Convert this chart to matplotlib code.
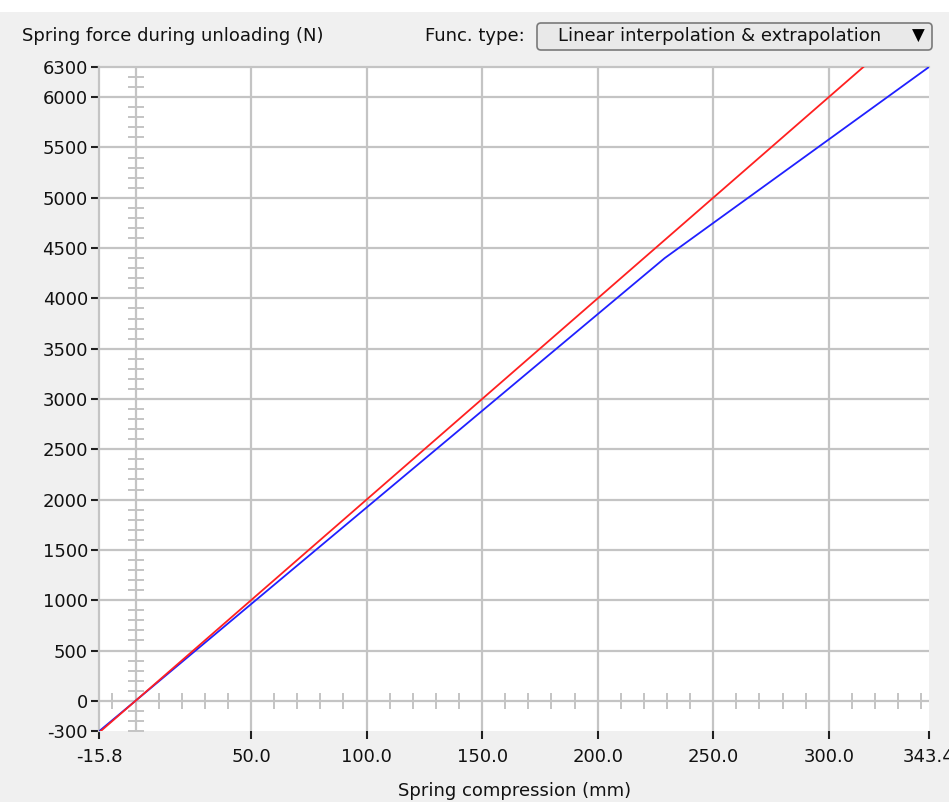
import numpy as np
import matplotlib.pyplot as plt
from matplotlib.patches import Rectangle, FancyBboxPatch

# du lieu doc tu hinh
x_red = [-15.8, 0.0, 343.4]
f_red = [-316.0, 0.0, 6868.0]
x_blue = [-15.8, 0.0, 229.0, 343.4]
f_blue = [-303.0, 0.0, 4400.0, 6300.0]

xticks = [-15.8, 50, 100, 150, 200, 250, 300, 343.4]
xlabels = ["-15.8", "50.0", "100.0", "150.0", "200.0", "250.0", "300.0", "343.4"]
yticks = [-300, 0, 500, 1000, 1500, 2000, 2500, 3000, 3500, 4000, 4500,
          5000, 5500, 6000, 6300]
ylabels = [str(v) for v in yticks]
xgrid = [50, 100, 150, 200, 250, 300]
ygrid = [500, 1000, 1500, 2000, 2500, 3000, 3500, 4000, 4500, 5000, 5500, 6000]

W, H = 949, 802
plt.rcParams['font.family'] = 'DejaVu Sans'
fs = 13
grey = '#c4c4c4'

fig = plt.figure(figsize=(W / 100, H / 100), dpi=100, facecolor='#f0f0f0')
fig.patches.append(Rectangle((0, 1 - 12 / H), 1, 12 / H, transform=fig.transFigure,
                             facecolor='white', edgecolor='none'))

ax = fig.add_axes([99 / W, 1 - 731 / H, 830 / W, 664 / H])
ax.set_facecolor('white')
ax.set_xlim(-15.8, 343.4)
ax.set_ylim(-300, 6300)

# luoi
for v in xgrid:
    ax.axvline(v, color=grey, lw=1.6, zorder=1)
for v in ygrid:
    ax.axhline(v, color=grey, lw=1.6, zorder=1)
ax.axvline(0, color=grey, lw=1.6, zorder=1)
ax.axhline(0, color=grey, lw=1.6, zorder=1)

# vach nho tren truc 0
yt = np.arange(-300, 6301, 100)
xt = np.arange(-10, 341, 10)
ax.plot(np.zeros(len(yt)), yt, ls='none', marker='_', ms=12, mew=1.4, color=grey,
        zorder=1, clip_on=False)
ax.plot(xt, np.zeros(len(xt)), ls='none', marker='|', ms=12, mew=1.4, color=grey,
        zorder=1)

# duong cong
ax.plot(x_blue, f_blue, color='#2020ff', lw=1.3, zorder=3)
ax.plot(x_red, f_red, color='#ff2020', lw=1.3, zorder=4)

for s in ['right', 'bottom']:
    ax.spines[s].set_visible(False)
for s in ['left', 'top']:
    ax.spines[s].set_color(grey)
    ax.spines[s].set_linewidth(1.6)

ax.set_xticks(xticks)
ax.set_xticklabels(xlabels)
ax.set_yticks(yticks)
ax.set_yticklabels(ylabels)
ax.tick_params(axis='both', direction='out', length=6, width=1.5, color='#202020',
               labelsize=fs, pad=2, labelcolor='#111111')
ax.tick_params(axis='x', pad=6)

# tieu de va hop chon
fig.text(22 / W, 1 - 36 / H, "Spring force during unloading (N)", ha='left', va='center',
         fontsize=fs, color='#111111')
fig.text(525 / W, 1 - 36 / H, "Func. type:", ha='right', va='center', fontsize=fs,
         color='#111111')
box = FancyBboxPatch((5.37, (H - 50) / 100), 3.95, 0.27,
                     boxstyle='round,pad=0,rounding_size=0.04',
                     transform=fig.dpi_scale_trans, facecolor='#e9e9e9',
                     edgecolor='#7a7a7a', lw=1.2)
fig.patches.append(box)
fig.text(720 / W, 1 - 36 / H, "Linear interpolation & extrapolation", ha='center',
         va='center', fontsize=fs, color='#111111')
fig.text(918 / W, 1 - 36 / H, "\u25bc", ha='center', va='center', fontsize=12,
         color='black')

fig.text(515 / W, 1 - 791 / H, "Spring compression (mm)", ha='center', va='center',
         fontsize=fs, color='#111111')

fig.savefig('out.png', dpi=100, facecolor=fig.get_facecolor())
